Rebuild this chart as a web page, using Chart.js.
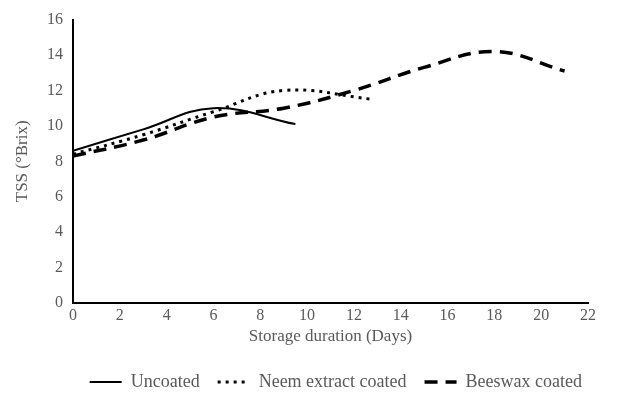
<!DOCTYPE html>
<html lang="en">
<head>
    <meta charset="UTF-8">
    <title>TSS during storage</title>
    <script src="https://cdn.jsdelivr.net/npm/chart.js@4.4.0/dist/chart.umd.min.js"></script>
    <style>
        body {
            margin: 0;
            padding: 0;
            background: #ffffff;
        }
        .chart-box {
            position: relative;
            width: 630px;
            height: 416px;
        }
    </style>
</head>
<body>
    <div class="chart-box">
        <canvas id="tssChart"></canvas>
    </div>

    <script>
        // storage days and TSS readings (°Brix)
        const daysUncoated = [0, 3, 6, 9.5];
        const uncoated = [8.6, 9.8, 11.0, 10.1];

        const daysNeem = [0, 3, 6, 9, 12.8];
        const neem = [8.4, 9.5, 10.8, 12.0, 11.5];

        const daysBeeswax = [0, 3, 6, 9, 12, 15, 18, 21];
        const beeswax = [8.3, 9.2, 10.5, 11.0, 12.0, 13.3, 14.2, 13.1];

        const xTicks = [0, 2, 4, 6, 8, 10, 12, 14, 16, 18, 20, 22];
        const yTicks = [0, 2, 4, 6, 8, 10, 12, 14, 16];

        const textGrey = '#595959';
        const serif = "'Liberation Serif', 'Times New Roman', serif";

        function toPoints(xs, ys) {
            return xs.map((x, i) => ({ x: x, y: ys[i] }));
        }

        new Chart(document.getElementById('tssChart'), {
            type: 'line',
            data: {
                datasets: [{
                    label: 'Uncoated',
                    data: toPoints(daysUncoated, uncoated),
                    borderColor: '#000000',
                    borderWidth: 2,
                    borderDash: []
                }, {
                    label: 'Neem extract coated',
                    data: toPoints(daysNeem, neem),
                    borderColor: '#000000',
                    borderWidth: 3,
                    borderDash: [3, 5]
                }, {
                    label: 'Beeswax coated',
                    data: toPoints(daysBeeswax, beeswax),
                    borderColor: '#000000',
                    borderWidth: 3.5,
                    borderDash: [13, 8]
                }]
            },
            options: {
                responsive: true,
                maintainAspectRatio: false,
                animation: false,
                layout: {
                    padding: { left: 0, right: 30, top: 12, bottom: 15 }
                },
                elements: {
                    point: { radius: 0, pointStyle: 'line' },
                    line: { tension: 0.4, fill: false }
                },
                scales: {
                    x: {
                        type: 'linear',
                        min: 0,
                        max: 22,
                        afterBuildTicks: (axis) => {
                            axis.ticks = xTicks.map(v => ({ value: v }));
                        },
                        afterFit: (axis) => { axis.height = 52; },
                        grid: { display: false, drawTicks: false },
                        border: { color: '#000000', width: 2 },
                        ticks: {
                            color: textGrey,
                            padding: 3,
                            maxRotation: 0,
                            font: { family: serif, size: 16 }
                        },
                        title: {
                            display: true,
                            text: 'Storage duration (Days)',
                            color: textGrey,
                            padding: { top: 0, bottom: 8 },
                            font: { family: serif, size: 17 }
                        }
                    },
                    y: {
                        min: 0,
                        max: 16,
                        afterBuildTicks: (axis) => {
                            axis.ticks = yTicks.map(v => ({ value: v }));
                        },
                        afterFit: (axis) => { axis.width = 73; },
                        grid: { display: false, drawTicks: false },
                        border: { color: '#000000', width: 2 },
                        ticks: {
                            color: textGrey,
                            padding: 10,
                            font: { family: serif, size: 16 }
                        },
                        title: {
                            display: true,
                            text: 'TSS (°Brix)',
                            color: textGrey,
                            padding: { top: 12, bottom: 0 },
                            font: { family: serif, size: 17 }
                        }
                    },
                    // empty axis on the right, only keeps a gap after the plot
                    spacer: {
                        type: 'linear',
                        position: 'right',
                        afterFit: (axis) => { axis.width = 12; },
                        grid: { display: false, drawTicks: false },
                        border: { display: false },
                        ticks: { display: false }
                    }
                },
                plugins: {
                    legend: {
                        position: 'bottom',
                        align: 'end',
                        labels: {
                            usePointStyle: true,
                            pointStyleWidth: 32,
                            color: textGrey,
                            padding: 18,
                            font: { family: serif, size: 18 },
                            generateLabels: (chart) => {
                                const items = Chart.defaults.plugins.legend.labels.generateLabels(chart);
                                items.forEach((item) => {
                                    const ds = chart.data.datasets[item.datasetIndex];
                                    item.lineDash = ds.borderDash;
                                    item.lineWidth = ds.borderWidth;
                                    item.strokeStyle = '#000000';
                                    item.pointStyle = 'line';
                                });
                                return items;
                            }
                        }
                    },
                    tooltip: { enabled: false }
                }
            }
        });
    </script>
</body>
</html>
